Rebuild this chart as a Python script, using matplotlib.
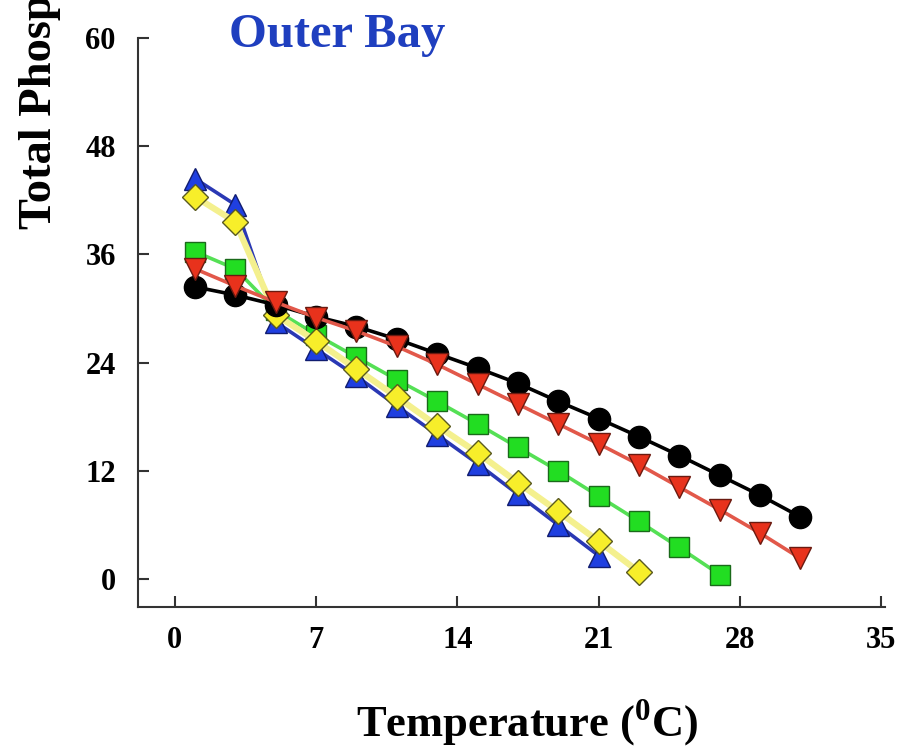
import matplotlib
matplotlib.use("Agg")
import matplotlib.pyplot as plt

# Temperature (deg C) sampled at odd values
temp_black = [1, 3, 5, 7, 9, 11, 13, 15, 17, 19, 21, 23, 25, 27, 29, 31]
tp_black = [32.4, 31.5, 30.4, 29.1, 28.0, 26.6, 25.0, 23.4, 21.7, 19.7, 17.8, 15.8, 13.7, 11.5, 9.3, 6.9]

temp_red = [1, 3, 5, 7, 9, 11, 13, 15, 17, 19, 21, 23, 25, 27, 29, 31]
tp_red = [34.4, 32.5, 30.7, 29.0, 27.5, 25.8, 23.8, 21.6, 19.4, 17.2, 15.0, 12.7, 10.2, 7.7, 5.1, 2.3]

temp_green = [1, 3, 5, 7, 9, 11, 13, 15, 17, 19, 21, 23, 25, 27]
tp_green = [36.3, 34.4, 29.8, 27.1, 24.6, 22.1, 19.7, 17.2, 14.6, 12.0, 9.2, 6.4, 3.5, 0.5]

temp_yellow = [1, 3, 5, 7, 9, 11, 13, 15, 17, 19, 21, 23]
tp_yellow = [42.4, 39.6, 29.3, 26.4, 23.3, 20.2, 17.0, 14.0, 10.7, 7.5, 4.2, 0.8]

temp_blue = [1, 3, 5, 7, 9, 11, 13, 15, 17, 19, 21]
tp_blue = [44.4, 41.5, 28.5, 25.5, 22.5, 19.2, 16.0, 12.8, 9.4, 6.0, 2.6]

x_ticks = [0, 7, 14, 21, 28, 35]
y_ticks = [0, 12, 24, 36, 48, 60]

plt.rcParams["font.family"] = ["Liberation Serif", "DejaVu Serif"]
plt.rcParams["font.weight"] = "bold"
plt.rcParams["mathtext.fontset"] = "custom"
plt.rcParams["mathtext.rm"] = "Liberation Serif:bold"
plt.rcParams["mathtext.bf"] = "Liberation Serif:bold"

fig = plt.figure(figsize=(8.99, 7.48), dpi=100)
ax = fig.add_axes([138 / 899, 1 - 607 / 748, (885 - 138) / 899, (607 - 38) / 748])

# Draw order: blue, green, yellow, black, red (red on top)
ax.plot(temp_blue, tp_blue, color="#2a38b4", lw=2.6, marker="^", ms=16,
        mfc="#1f3fe0", mec="#101c70", mew=1.0, zorder=2)
ax.plot(temp_green, tp_green, color="#55e055", lw=2.6, marker="s", ms=14,
        mfc="#22dd22", mec="#1a6a1a", mew=1.0, zorder=3)
ax.plot(temp_yellow, tp_yellow, color="#f4f08e", lw=4.5, marker="D", ms=13,
        mfc="#f7ee2a", mec="#5a5a20", mew=1.0, zorder=4)
ax.plot(temp_black, tp_black, color="#000000", lw=2.6, marker="o", ms=16,
        mfc="#000000", mec="#000000", zorder=5)
ax.plot(temp_red, tp_red, color="#e2584a", lw=2.6, marker="v", ms=16,
        mfc="#e8321c", mec="#6a1a10", mew=1.0, zorder=6)

# Axes styling
ax.set_xlim(-1.83, 35.2)
ax.set_ylim(-3.1, 60)
ax.set_xticks(x_ticks)
ax.set_yticks(y_ticks)
for s in ["top", "right"]:
    ax.spines[s].set_visible(False)
ax.spines["left"].set_bounds(-3.1, 60)
for s in ["left", "bottom"]:
    ax.spines[s].set_linewidth(1.5)
    ax.spines[s].set_color("#333333")
ax.tick_params(direction="in", length=8, width=1.5, color="#333333", labelsize=22)
ax.tick_params(axis="x", pad=14)
ax.tick_params(axis="y", pad=16)
for lbl in ax.get_xticklabels() + ax.get_yticklabels():
    lbl.set_fontweight("bold")

# Title and axis labels
fig.text(337 / 899, 1 - 47 / 748, "Outer Bay", color="#1f3fbf", fontsize=35,
         fontweight="bold", ha="center", va="baseline")
fig.text(527 / 899, 1 - 737 / 748, r"Temperature ($^{0}$C)", fontsize=32,
         fontweight="bold", ha="center", va="baseline")
# y label runs off the top of the figure, as in the original
fig.text(51 / 899, 1 - 229 / 748, "Total Phosphorus (\u00b5g/L)", fontsize=33.5,
         fontweight="bold", rotation=90, ha="left", va="baseline",
         rotation_mode="anchor")

fig.savefig("out.png", dpi=100)
